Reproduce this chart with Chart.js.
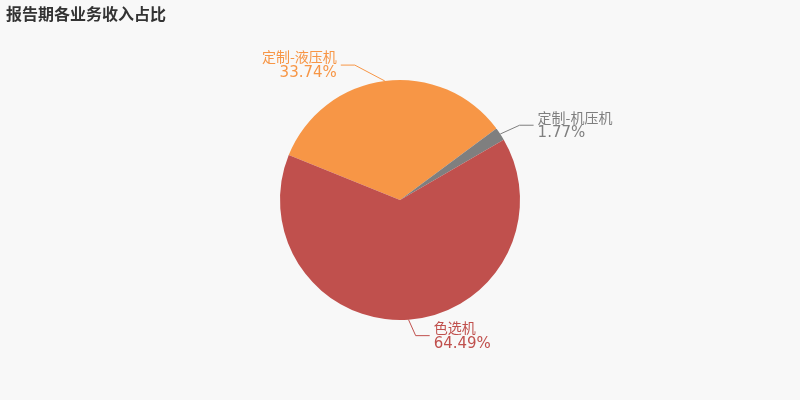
<!DOCTYPE html><html><head><meta charset="utf-8">
<script src="https://cdn.jsdelivr.net/npm/chart.js@4/dist/chart.umd.min.js"></script>
<style>body{margin:0;background:#f8f8f8}#w{width:800px;height:400px;position:relative}</style></head><body><div id="w"><canvas id="c"></canvas></div>
<script>
const categories=["定制-液压机","定制-机压机","色选机"];
const values=[33.74,1.77,64.49];
const colors=["#f79646","#7f7f7f","#c0504d"];
const labelPlugin={id:'lbl',afterDatasetsDraw(chart){
 const ctx=chart.ctx;const arcs=chart.getDatasetMeta(0).data;
 arcs.forEach((a,i)=>{
  const mid=(a.startAngle+a.endAngle)/2,r=a.outerRadius;
  const x0=a.x+Math.cos(mid)*r,y0=a.y+Math.sin(mid)*r;
  const x1=a.x+Math.cos(mid)*(r+16)+(Math.cos(mid)>=0?6:-28),y1=a.y+Math.sin(mid)*(r+16);
  const right=Math.cos(mid)>=0;const x2=x1+(right?14:-14);
  ctx.save();ctx.strokeStyle=colors[i];ctx.lineWidth=1;ctx.beginPath();ctx.moveTo(x0,y0);ctx.lineTo(x1,y1);ctx.lineTo(x2,y1);ctx.stroke();
  ctx.fillStyle=colors[i];ctx.textAlign=right?'left':'right';ctx.textBaseline='middle';
  const tx=x2+(right?4:-4);
  ctx.font='14px "Noto Sans CJK SC","DejaVu Sans",sans-serif';ctx.fillText(categories[i],tx,y1-8);
  ctx.font='15px "DejaVu Sans",sans-serif';ctx.fillText(values[i].toFixed(2)+'%',tx,y1+8);
  ctx.restore();});
 ctx.save();ctx.fillStyle='#333';ctx.font='bold 16px "Noto Sans CJK SC",sans-serif';ctx.textAlign='left';ctx.textBaseline='middle';
 ctx.fillText('报告期各业务收入占比',6,14);ctx.restore();}};
new Chart(document.getElementById('c'),{type:'pie',data:{labels:categories,datasets:[{data:values,backgroundColor:colors,borderWidth:0}]},
options:{responsive:true,maintainAspectRatio:false,animation:false,rotation:-68,layout:{padding:{top:80,bottom:80}},
plugins:{legend:{display:false},tooltip:{enabled:false},title:{display:false}}},
plugins:[labelPlugin,{id:'bg',beforeDraw(c){c.ctx.save();c.ctx.fillStyle='#f8f8f8';c.ctx.fillRect(0,0,c.width,c.height);c.ctx.restore();}}]});
</script></body></html>
